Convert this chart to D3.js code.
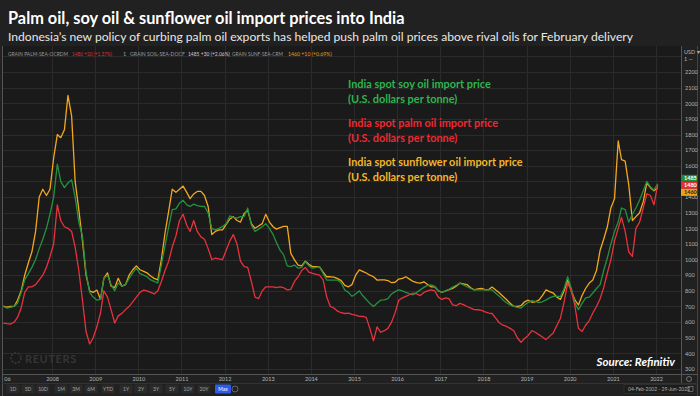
<!DOCTYPE html>
<html>
<head>
<meta charset="utf-8">
<script src="https://cdn.jsdelivr.net/npm/d3@7"></script>
<style>
  html, body { margin: 0; padding: 0; background: #212121; }
  svg { display: block; font-family: Lato, "Noto Sans", sans-serif; }
</style>
</head>
<body>
<svg id="chart" width="700" height="396"></svg>
<script>
// monthly readings, Nov 2006 .. Jan 2022 (USD per tonne)
const firstMonth = new Date(2006, 10, 1);
const lastMonth = new Date(2022, 0, 1);

const sunflower = [
  703, 695,
  700, 700, 740, 800, 900, 980, 1050, 1180, 1400, 1450, 1410, 1450,
  1650, 1800, 1780, 1830, 2050, 1920, 1500, 1320, 1120, 900, 800, 790,
  805, 745, 880, 915, 830, 820, 880, 830, 840, 900, 935, 960,
  935, 925, 915, 895, 880, 870, 1000, 1170, 1310, 1450, 1430, 1450,
  1470, 1430, 1390, 1420, 1436, 1436, 1410, 1340, 1160, 1180, 1190, 1190,
  1225, 1260, 1275, 1250, 1240, 1295, 1315, 1230, 1200, 1215, 1230, 1290,
  1240, 1210, 1195, 1205, 1212, 1212, 1040, 998, 965, 960, 990, 970,
  955, 955, 953, 920, 890, 890, 888, 878, 865, 835, 826, 840,
  900, 934, 925, 914, 900, 890, 869, 870, 870, 866, 852, 855,
  875, 880, 890, 875, 860, 852, 850, 858, 840, 826, 826, 800,
  790, 800, 808, 816, 830, 849, 845, 840, 820, 806, 812, 815,
  808, 808, 824, 805, 788, 765, 745, 720, 700, 700, 705, 730,
  740, 727, 730, 741, 770, 806, 795, 786, 760, 745, 800, 869,
  800, 740, 710, 770, 815, 850, 870, 930, 1060, 1130, 1210, 1330,
  1390, 1760, 1640, 1630, 1480, 1250, 1275, 1300, 1370, 1490, 1460, 1440,
  1460
];

const soy = [
  700, 690,
  695, 700, 720, 790, 870, 910, 950, 1000, 1070, 1130, 1200, 1290,
  1400, 1610, 1500, 1460, 1490, 1510, 1400, 1240, 1150, 920, 790, 760,
  740, 745, 880, 900, 840, 800, 850, 830, 840, 880, 915, 945,
  910, 900, 890, 870, 860, 850, 965, 1090, 1210, 1320, 1325, 1360,
  1380, 1350, 1340, 1355, 1345, 1340, 1340, 1298, 1200, 1190, 1200, 1212,
  1230, 1280, 1270, 1265, 1275, 1276, 1330, 1220, 1180, 1195, 1210, 1230,
  1200, 1160, 1110, 1060, 1030, 960, 955, 965, 945, 950, 985, 960,
  945, 950, 953, 910, 869, 869, 869, 869, 850, 805, 790, 765,
  780, 800, 770, 745, 720, 700, 720, 740, 742, 750, 780, 795,
  806, 800, 790, 780, 775, 790, 806, 822, 835, 838, 828, 800,
  790, 800, 810, 824, 836, 849, 838, 826, 815, 806, 806, 806,
  806, 806, 806, 785, 766, 742, 724, 710, 700, 694, 690, 710,
  725, 738, 732, 724, 730, 742, 755, 764, 764, 764, 815, 890,
  815, 720, 680, 720, 755, 760, 786, 815, 840, 930, 1010, 1100,
  1180, 1240, 1330, 1320, 1240, 1290, 1330, 1380, 1440, 1500, 1465, 1445,
  1485
];

const palm = [
  594, 590,
  588, 600, 630, 690, 790, 826, 826, 840, 870, 900, 950, 1020,
  1100, 1350, 1250, 1210, 1200, 1180, 1080, 930, 740, 540, 460, 500,
  570, 660, 800, 760, 680, 594, 640, 656, 680, 700, 730, 760,
  790, 805, 800, 790, 780, 800, 860, 930, 990, 1080, 1150, 1250,
  1290, 1220, 1180, 1250, 1180, 1145, 1130, 1070, 1000, 1010, 1005, 1000,
  1060, 1120, 1160, 1100, 990, 955, 950, 860, 760, 750, 800, 826,
  826, 826, 820, 826, 820, 806, 810, 860, 890, 930, 950, 920,
  912, 905, 900, 870, 760, 700, 690, 670, 660, 655, 658, 650,
  645, 637, 637, 630, 560, 480, 570, 535, 545, 560, 600, 660,
  740, 755, 765, 775, 786, 780, 770, 790, 800, 806, 800, 760,
  745, 755, 750, 710, 705, 720, 712, 700, 690, 680, 679, 675,
  665, 658, 655, 625, 596, 580, 572, 560, 545, 500, 470, 495,
  515, 545, 535, 520, 505, 488, 510, 530, 580, 625, 730, 850,
  800, 700, 560, 540, 580, 610, 658, 700, 750, 820, 914, 1000,
  1120, 1200, 1270, 1180, 1050, 1020, 1200, 1240, 1330, 1420, 1410, 1350,
  1480
];

const yearTicks = ["2006-12-15", "2008", "2009", "2010", "2011", "2012", "2013", "2014",
  "2015", "2016", "2017", "2018", "2019", "2020", "2021", "2022"];
// 1500 sits under the last-value tags, so it is not labelled
const priceTicks = [300, 400, 500, 600, 700, 800, 900, 1000, 1100, 1200, 1300, 1400,
  1600, 1700, 1800, 1900, 2000, 2100, 2200];
const gridTicks = d3.range(300, 2301, 100);
const lastValues = {palm: 1480, soy: 1485, sunflower: 1460};

const months = d3.timeMonth.range(firstMonth, d3.timeMonth.offset(lastMonth, 1))
  .map(m => d3.timeDay.offset(m, 14));

const colors = {
  sunflower: "#f2a81d",
  soy: "#24913f",
  palm: "#e8323c",
  sunText: "#f3b62a",
  soyText: "#2fb44f",
  palmText: "#ec2a34"
};

const plot = {left: 3, right: 681, top: 46, bottom: 374};

const svg = d3.select("#chart");

// background
svg.append("rect").attr("width", 700).attr("height", 396).attr("fill", "#212121");
svg.append("rect")
  .attr("x", plot.left).attr("y", plot.top)
  .attr("width", plot.right - plot.left).attr("height", plot.bottom - plot.top)
  .attr("fill", "#1a1a1a");

const x = d3.scaleTime()
  .domain([new Date(2008, 0, 1), new Date(2022, 0, 1)])
  .range([52, 656]);
const y = d3.scaleLinear().domain([300, 2200]).range([369, 72]);

const tickDates = yearTicks.map(s => s.length > 4 ? new Date(s) : new Date(+s, 0, 1));

// grid
const grid = svg.append("g").attr("class", "grid");
grid.selectAll("line.h").data(gridTicks).enter().append("line")
  .attr("class", "h")
  .attr("x1", plot.left).attr("x2", plot.right)
  .attr("y1", d => Math.round(y(d)) + 0.5).attr("y2", d => Math.round(y(d)) + 0.5)
  .attr("stroke", "#2b2b2b");
grid.selectAll("line.v").data(tickDates.slice(1)).enter().append("line")
  .attr("class", "v")
  .attr("x1", d => Math.round(x(d)) + 0.5).attr("x2", d => Math.round(x(d)) + 0.5)
  .attr("y1", plot.top).attr("y2", plot.bottom)
  .attr("stroke", "#2b2b2b");

// frame
svg.append("line").attr("x1", 2.5).attr("x2", 2.5).attr("y1", plot.top).attr("y2", 396).attr("stroke", "#555");
svg.append("line").attr("x1", plot.right + 0.5).attr("x2", plot.right + 0.5).attr("y1", plot.top).attr("y2", 384).attr("stroke", "#555");
svg.append("line").attr("x1", 697.5).attr("x2", 697.5).attr("y1", plot.top).attr("y2", 396).attr("stroke", "#444");
svg.append("line").attr("x1", 2).attr("x2", 698).attr("y1", plot.bottom + 0.5).attr("y2", plot.bottom + 0.5).attr("stroke", "#555");
svg.append("line").attr("x1", 2).attr("x2", 698).attr("y1", 383.5).attr("y2", 383.5).attr("stroke", "#333");

// Reuters watermark
const wm = svg.append("g").attr("fill", "#353535");
wm.append("circle").attr("cx", 16).attr("cy", 358).attr("r", 5)
  .attr("fill", "none").attr("stroke", "#353535").attr("stroke-width", 2).attr("stroke-dasharray", "2 1.5");
wm.append("text").attr("x", 25).attr("y", 363).attr("font-size", 11).attr("font-weight", 700)
  .attr("letter-spacing", 0.6).text("REUTERS");

// lines
svg.append("clipPath").attr("id", "clip").append("rect")
  .attr("x", plot.left).attr("y", plot.top)
  .attr("width", plot.right - plot.left).attr("height", plot.bottom - plot.top);

const line = d3.line()
  .x((d, i) => x(months[i]))
  .y(d => y(d));

const lines = svg.append("g").attr("clip-path", "url(#clip)");
[["sunflower", sunflower], ["soy", soy], ["palm", palm]].forEach(([key, vals]) => {
  lines.append("path")
    .datum(vals)
    .attr("fill", "none")
    .attr("stroke", colors[key])
    .attr("stroke-width", 1.3)
    .attr("stroke-linejoin", "round")
    .attr("d", line);
});

// axes
const yAxis = svg.append("g")
  .attr("transform", "translate(" + plot.right + ",0)")
  .call(d3.axisRight(y).tickValues(priceTicks).tickSize(0).tickPadding(4).tickFormat(d3.format("d")));
yAxis.select(".domain").remove();
yAxis.selectAll("text").attr("fill", "#b5b5b5").attr("font-size", 5.5).attr("font-family", "Lato, sans-serif");

const xAxis = svg.append("g")
  .attr("transform", "translate(0," + plot.bottom + ")")
  .call(d3.axisBottom(x).tickValues(tickDates).tickSize(0).tickPadding(3)
    .tickFormat(d => d.getFullYear() === 2006 ? "06" : d3.timeFormat("%Y")(d)));
xAxis.select(".domain").remove();
xAxis.selectAll("text").attr("fill", "#b5b5b5").attr("font-size", 5.5).attr("font-family", "Lato, sans-serif");

// unit labels on the price axis
svg.append("text").attr("x", 684).attr("y", 54).attr("fill", "#b5b5b5").attr("font-size", 5.5).text("USD ▾");
svg.append("text").attr("x", 684).attr("y", 61).attr("fill", "#b5b5b5").attr("font-size", 5.5).text("1  —");

// last value tags
const tags = [
  {key: "soy", value: lastValues.soy, fill: "#1f8a39", text: "#fff"},
  {key: "palm", value: lastValues.palm, fill: "#e0303a", text: "#fff"},
  {key: "sunflower", value: lastValues.sunflower, fill: "#f0a21c", text: "#222"}
];
const tagMid = y(d3.mean(tags, d => d.value));
const tagG = svg.selectAll("g.tag").data(tags).enter().append("g").attr("class", "tag")
  .attr("transform", (d, i) => "translate(681," + (tagMid + (i - 1) * 7) + ")");
tagG.append("rect").attr("x", 0).attr("y", -3.5).attr("width", 16).attr("height", 7).attr("fill", d => d.fill);
tagG.append("text").attr("x", 3).attr("y", 2).attr("font-size", 5.5).attr("font-weight", 700)
  .attr("fill", d => d.text).text(d => d.value);

// header
function fitWidth(sel, target) {
  const w = sel.node().getComputedTextLength();
  const fs = parseFloat(sel.attr("font-size"));
  sel.attr("font-size", fs * target / w);
}
const title = svg.append("text").attr("x", 8).attr("y", 24)
  .attr("font-size", 18).attr("font-weight", 700).attr("fill", "#ffffff")
  .text("Palm oil, soy oil & sunflower oil import prices into India");
fitWidth(title, 397);
const sub = svg.append("text").attr("x", 8).attr("y", 41)
  .attr("font-size", 14).attr("fill", "#e8e8e8")
  .text("Indonesia\u2019s new policy of curbing palm oil exports has helped push palm oil prices above rival oils for February delivery");
fitWidth(sub, 626);

// instrument legend row
const instr = [
  {x: 8, w: 60, text: "GRAIN PALM-SEA-OCRDM", fill: "#9a9a9a"},
  {x: 72, w: 40, text: "1480 +20 (+1.37%)", fill: "#d8333d"},
  {x: 123, w: 2, text: "1", fill: "#9a9a9a"},
  {x: 130, w: 55, text: "GRAIN SOIL-SEA-DOCF", fill: "#9a9a9a"},
  {x: 188, w: 42, text: "1485 +30 (+2.06%)", fill: "#d9c7d9"},
  {x: 232, w: 51, text: "GRAIN SUNF-SEA-CRM", fill: "#9a9a9a"},
  {x: 288, w: 44, text: "1460 +10 (+0.69%)", fill: "#e69a1c"}
];
svg.selectAll("text.instr").data(instr).enter().append("text").attr("class", "instr")
  .attr("x", d => d.x).attr("y", 56).attr("font-size", 5.5).attr("fill", d => d.fill)
  .text(d => d.text)
  .each(function(d) { if (d.w > 5) fitWidth(d3.select(this), d.w); });

// series labels inside the plot
const labels = [
  {y: 88, text: "India spot soy oil import price", fill: colors.soyText},
  {y: 103, text: "(U.S. dollars per tonne)", fill: colors.soyText},
  {y: 127, text: "India spot palm oil import price", fill: colors.palmText},
  {y: 142, text: "(U.S. dollars per tonne)", fill: colors.palmText},
  {y: 166, text: "India spot sunflower oil import price", fill: colors.sunText},
  {y: 181, text: "(U.S. dollars per tonne)", fill: colors.sunText}
];
const lab = svg.selectAll("text.lab").data(labels).enter().append("text").attr("class", "lab")
  .attr("x", 348).attr("y", d => d.y).attr("font-size", 12.5).attr("font-weight", 700)
  .attr("fill", d => d.fill).text(d => d.text);
const longest = lab.filter((d, i) => i === 4);
const w0 = longest.node().getComputedTextLength();
lab.attr("font-size", 12.5 * 175 / w0);

// source
svg.append("text").attr("x", 675).attr("y", 366).attr("text-anchor", "end")
  .attr("font-size", 11.5).attr("font-weight", 700).attr("font-style", "italic")
  .attr("fill", "#ffffff").text("Source: Refinitiv");

// range buttons
const buttons = ["1D", "5D", "10D", "1M", "3M", "6M", "YTD", "1Y", "2Y", "3Y", "5Y", "10Y", "20Y", "Max"];
const btnX = [13, 28, 43, 61, 76, 91, 108, 126, 141, 156, 172, 188, 204, 223];
const btn = svg.selectAll("g.btn").data(buttons).enter().append("g").attr("class", "btn")
  .attr("transform", (d, i) => "translate(" + btnX[i] + ",389)");
btn.append("rect").attr("x", d => d === "Max" ? -8 : -6.5).attr("y", -4.5)
  .attr("width", d => d === "Max" ? 16 : 13).attr("height", 9).attr("rx", 1)
  .attr("fill", d => d === "Max" ? "#2d5ce8" : "#2a2a2a");
btn.append("text").attr("text-anchor", "middle").attr("y", 2).attr("font-size", 5)
  .attr("fill", d => d === "Max" ? "#ffffff" : "#a5a5a5").text(d => d);
svg.append("circle").attr("cx", 235).attr("cy", 389).attr("r", 3).attr("fill", "none").attr("stroke", "#777").attr("stroke-width", 0.8);
svg.append("circle").attr("cx", 689).attr("cy", 379).attr("r", 2.5).attr("fill", "none").attr("stroke", "#888").attr("stroke-width", 0.8);

// date range box
svg.append("rect").attr("x", 624).attr("y", 384.5).attr("width", 72).attr("height", 9)
  .attr("fill", "#1d1d1d").attr("stroke", "#3a3a3a").attr("stroke-width", 0.6);
svg.append("text").attr("x", 628).attr("y", 391).attr("font-size", 5).attr("fill", "#b0b0b0")
  .text("04-Feb-2002  -  29-Jun-2022");
svg.append("rect").attr("x", 688).attr("y", 386.5).attr("width", 5).attr("height", 5)
  .attr("fill", "none").attr("stroke", "#999").attr("stroke-width", 0.6);
</script>
</body>
</html>
